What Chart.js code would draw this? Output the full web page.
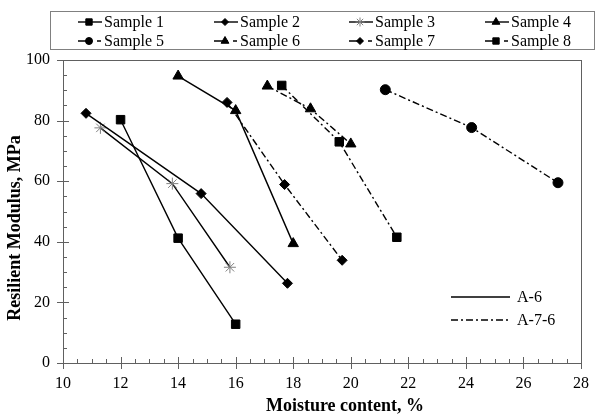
<!DOCTYPE html>
<html>
<head>
<meta charset="utf-8">
<script src="https://cdn.jsdelivr.net/npm/chart.js@4.4.0/dist/chart.umd.min.js"></script>
<style>
  html, body { margin: 0; padding: 0; background: #fff; }
  #wrap { width: 600px; height: 414px; }
</style>
</head>
<body>
<div id="wrap"><canvas id="chart" width="600" height="414"></canvas></div>
<script>
// moisture content (%) and resilient modulus (MPa) per sample
const s1x = [12.0, 14.0, 16.0], s1y = [80.3, 41.2, 12.8];
const s2x = [10.8, 14.8, 17.8], s2y = [82.4, 55.9, 26.3];
const s3x = [11.3, 13.8, 15.8], s3y = [77.6, 59.2, 31.6];
const s4x = [14.0, 16.0, 18.0], s4y = [94.7, 83.3, 39.4];
const s5x = [21.2, 24.2, 27.2], s5y = [90.2, 77.7, 59.5];
const s6x = [17.1, 18.6, 20.0], s6y = [91.4, 83.9, 72.3];
const s7x = [15.7, 17.7, 19.7], s7y = [86.0, 58.9, 33.9];
const s8x = [17.6, 19.6, 21.6], s8y = [91.6, 73.0, 41.5];

const sampleNames = ['Sample 1', 'Sample 2', 'Sample 3', 'Sample 4', 'Sample 5', 'Sample 6', 'Sample 7', 'Sample 8'];
const soilTypes = ['A-6', 'A-7-6'];
const xTicks = [10, 12, 14, 16, 18, 20, 22, 24, 26, 28];
const yTicks = [0, 20, 40, 60, 80, 100];
const xTitle = 'Moisture content, %';
const yTitle = 'Resilient Modulus, MPa';

const FONT = "'Liberation Serif', 'Times New Roman', serif";
const DASHDOT = [7, 3, 2, 3];

const pairs = (xs, ys) => xs.map((x, i) => ({ x, y: ys[i] }));

const styles = [
  { pointStyle: 'rect', r: 6, color: '#000', dash: [] },
  { pointStyle: 'rectRot', r: 5, color: '#000', dash: [] },
  { pointStyle: 'star', r: 6, color: '#808080', dash: [] },
  { pointStyle: 'triangle', r: 6, color: '#000', dash: [] },
  { pointStyle: 'circle', r: 5, color: '#000', dash: DASHDOT },
  { pointStyle: 'triangle', r: 6, color: '#000', dash: DASHDOT },
  { pointStyle: 'rectRot', r: 5, color: '#000', dash: DASHDOT },
  { pointStyle: 'rect', r: 6, color: '#000', dash: DASHDOT },
];

const allData = [
  pairs(s1x, s1y), pairs(s2x, s2y), pairs(s3x, s3y), pairs(s4x, s4y),
  pairs(s5x, s5y), pairs(s6x, s6y), pairs(s7x, s7y), pairs(s8x, s8y),
];

const datasets = allData.map((data, i) => ({
  label: sampleNames[i],
  data,
  showLine: true,
  borderColor: '#000',
  borderWidth: 1.4,
  borderDash: styles[i].dash,
  pointStyle: styles[i].pointStyle,
  pointRadius: styles[i].r,
  pointBackgroundColor: styles[i].color,
  pointBorderColor: styles[i].color,
  pointBorderWidth: 1,
}));

function drawMarker(ctx, style, x, y, r) {
  ctx.save();
  ctx.setLineDash([]);
  ctx.fillStyle = style.color;
  ctx.strokeStyle = style.color;
  ctx.lineWidth = 1;
  Chart.helpers.drawPoint(ctx, { pointStyle: style.pointStyle, radius: r, rotation: 0, borderWidth: 1 }, x, y);
  ctx.restore();
}

// legend box, ticks, frame and axis titles
const decor = {
  id: 'decor',
  afterDatasetsDraw(chart) {
    const ctx = chart.ctx;
    const a = chart.chartArea;
    const xs = chart.scales.x, ys = chart.scales.y;
    ctx.save();
    ctx.strokeStyle = '#606060';
    ctx.lineWidth = 1;
    ctx.setLineDash([]);
    ctx.strokeRect(Math.round(a.left) + 0.5, Math.round(a.top) + 0.5, Math.round(a.right - a.left), Math.round(a.bottom - a.top));

    ctx.beginPath();
    for (let v = 10; v <= 28.001; v += 0.5) {
      const px = Math.round(xs.getPixelForValue(v)) + 0.5;
      const major = Math.abs(v / 2 - Math.round(v / 2)) < 1e-6;
      ctx.moveTo(px, a.bottom + (major ? 6 : 0));
      ctx.lineTo(px, a.bottom - (major ? 6 : 4));
    }
    for (let v = 0; v <= 100.001; v += 5) {
      const py = Math.round(ys.getPixelForValue(v)) + 0.5;
      const major = v % 20 === 0;
      ctx.moveTo(a.left - (major ? 6 : 0), py);
      ctx.lineTo(a.left + (major ? 6 : 4), py);
    }
    ctx.stroke();

    // axis titles
    ctx.fillStyle = '#000';
    ctx.font = 'bold 18px ' + FONT;
    ctx.textAlign = 'center';
    ctx.textBaseline = 'middle';
    ctx.fillText(xTitle, 345, 406);
    ctx.save();
    ctx.translate(15, 228);
    ctx.rotate(-Math.PI / 2);
    ctx.fillText(yTitle, 0, 0);
    ctx.restore();

    // top legend
    ctx.strokeStyle = '#808080';
    ctx.strokeRect(50.5, 11.5, 544, 38);
    ctx.font = '16px ' + FONT;
    ctx.fillStyle = '#000';
    ctx.textBaseline = 'middle';
    ctx.textAlign = 'left';
    const colX = [104, 240, 375, 511];
    const rowY = [22, 41];
    for (let i = 0; i < 8; i++) {
      const tx = colX[i % 4], ty = rowY[Math.floor(i / 4)];
      const st = styles[i];
      ctx.strokeStyle = '#000';
      ctx.lineWidth = 1.4;
      ctx.beginPath();
      if (st.dash.length) {
        ctx.moveTo(tx - 26, ty); ctx.lineTo(tx - 12, ty);
        ctx.moveTo(tx - 7, ty); ctx.lineTo(tx - 3, ty);
      } else {
        ctx.moveTo(tx - 26, ty); ctx.lineTo(tx - 2, ty);
      }
      ctx.stroke();
      drawMarker(ctx, st, tx - 15, ty, st.r - 1.5);
      ctx.fillStyle = '#000';
      ctx.fillText(sampleNames[i], tx, ty + 1);
    }

    // soil type legend
    const ly = [297, 320];
    for (let j = 0; j < 2; j++) {
      ctx.beginPath();
      ctx.strokeStyle = '#000';
      ctx.lineWidth = 1.4;
      ctx.setLineDash(j === 0 ? [] : DASHDOT);
      ctx.moveTo(451, ly[j]); ctx.lineTo(510, ly[j]);
      ctx.stroke();
      ctx.setLineDash([]);
      ctx.fillText(soilTypes[j], 517, ly[j] + 1);
    }
    ctx.restore();
  },
};

new Chart(document.getElementById('chart'), {
  type: 'scatter',
  data: { datasets },
  options: {
    responsive: false,
    animation: false,
    layout: { padding: { left: 0, top: 60, right: 10, bottom: 0 } },
    plugins: { legend: { display: false }, tooltip: { enabled: false } },
    scales: {
      x: {
        type: 'linear', min: 10, max: 28,
        afterBuildTicks: (s) => { s.ticks = xTicks.map(v => ({ value: v })); },
        afterFit: (s) => { s.height = 51; },
        grid: { display: false, drawTicks: false },
        border: { display: false },
        ticks: { color: '#000', font: { family: FONT, size: 16 }, padding: 11, maxRotation: 0 },
      },
      y: {
        type: 'linear', min: 0, max: 100,
        afterBuildTicks: (s) => { s.ticks = yTicks.map(v => ({ value: v })); },
        afterFit: (s) => { s.width = 63; },
        grid: { display: false, drawTicks: false },
        border: { display: false },
        ticks: { color: '#000', font: { family: FONT, size: 16 }, padding: 13 },
      },
    },
  },
  plugins: [decor],
});
</script>
</body>
</html>
